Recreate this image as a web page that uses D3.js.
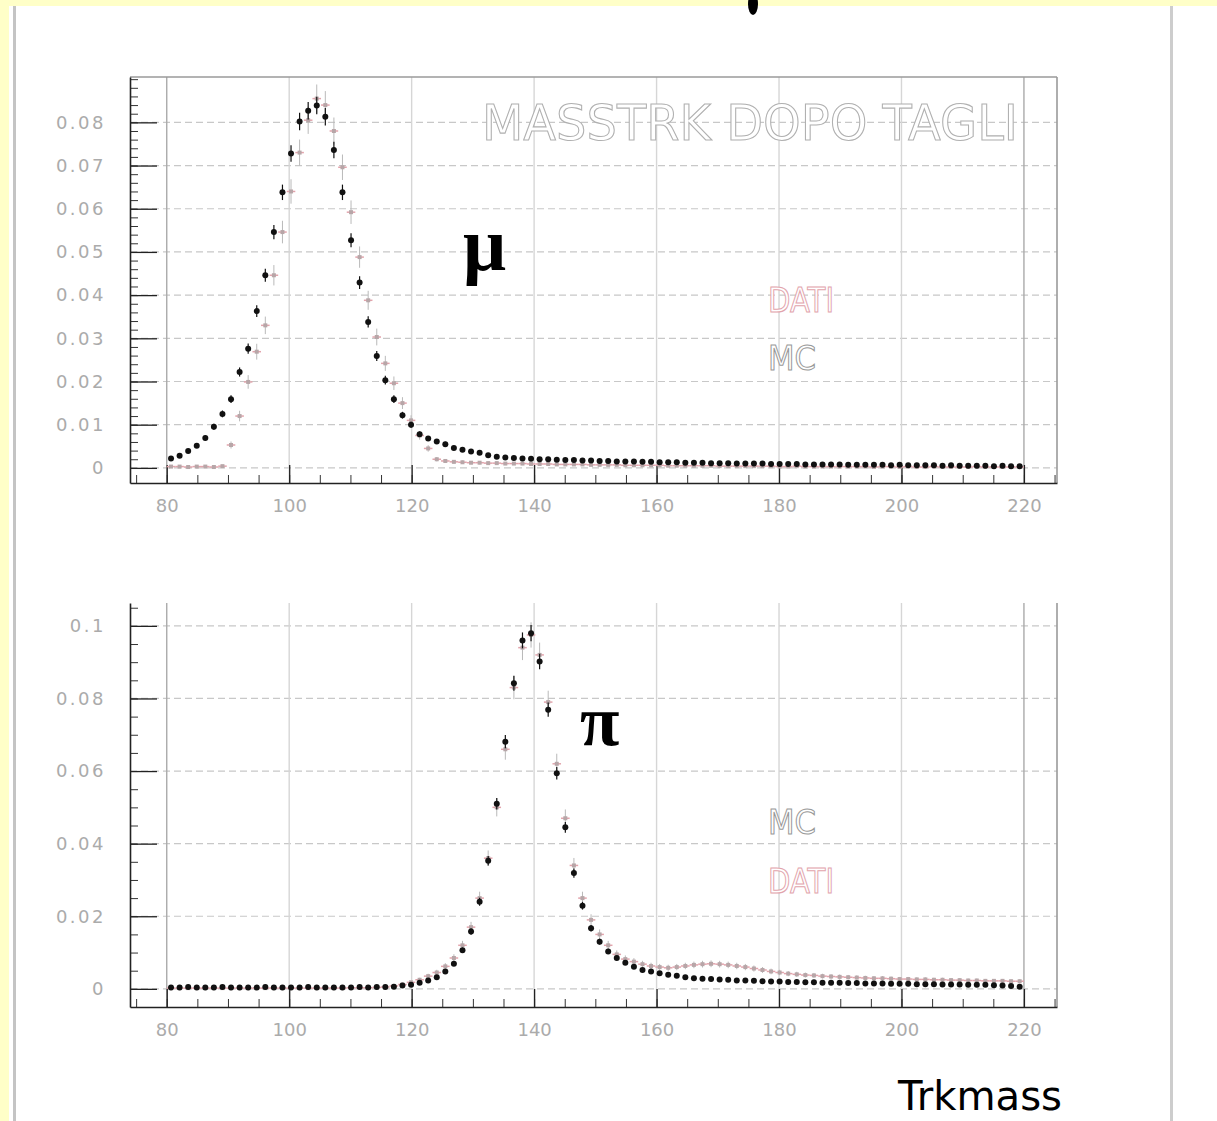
<!DOCTYPE html>
<html>
<head>
<meta charset="utf-8">
<script src="https://cdn.jsdelivr.net/npm/d3@7"></script>
<style>
  body { margin: 0; background: #fff; }
  svg { display: block; }
</style>
</head>
<body>
<svg id="page" width="1217" height="1121"></svg>
<script>
// histogram binning: 100 bins of 1.4 MeV from 80 to 220
var binLo = 80, binW = 1.4;

var xTicks = [80, 100, 120, 140, 160, 180, 200, 220];
var xTickLabels = ["80", "100", "120", "140", "160", "180", "200", "220"];

var yTicksMu = [0, 0.01, 0.02, 0.03, 0.04, 0.05, 0.06, 0.07, 0.08];
var yTickLabelsMu = ["0", "0.01", "0.02", "0.03", "0.04", "0.05", "0.06", "0.07", "0.08"];
var yTicksPi = [0, 0.02, 0.04, 0.06, 0.08, 0.1];
var yTickLabelsPi = ["0", "0.02", "0.04", "0.06", "0.08", "0.1"];

// muon sample
var mcMu = [
  0.0022, 0.0028, 0.0039, 0.0051, 0.0069, 0.0095, 0.0125, 0.0159, 0.0222, 0.0276,
  0.0363, 0.0446, 0.0546, 0.0638, 0.0728, 0.0802, 0.0827, 0.0839, 0.0813, 0.0736,
  0.0638, 0.0527, 0.0429, 0.0338, 0.0259, 0.0203, 0.0159, 0.0122, 0.0100, 0.0078,
  0.0068, 0.0061, 0.0055, 0.0046, 0.0042, 0.0038, 0.0035, 0.0029, 0.0026, 0.0024,
  0.0023, 0.0022, 0.0021, 0.0020, 0.0020, 0.0019, 0.0018, 0.0018, 0.0017, 0.0017,
  0.0016, 0.0016, 0.0015, 0.0015, 0.0015, 0.0014, 0.0014, 0.0013, 0.0013, 0.0013,
  0.0012, 0.0012, 0.0012, 0.0011, 0.0011, 0.0011, 0.0010, 0.0010, 0.0010, 0.0010,
  0.0009, 0.0009, 0.0009, 0.0009, 0.0008, 0.0008, 0.0008, 0.0008, 0.0008, 0.0007,
  0.0007, 0.0007, 0.0007, 0.0007, 0.0006, 0.0007, 0.0006, 0.0006, 0.0006, 0.0006,
  0.0005, 0.0006, 0.0005, 0.0005, 0.0005, 0.0005, 0.0004, 0.0005, 0.0004, 0.0004
];
var datiMu = [
  0.0003, 0.0003, 0.0002, 0.0003, 0.0003, 0.0002, 0.0004, 0.0053, 0.0120, 0.0199,
  0.0269, 0.0330, 0.0446, 0.0546, 0.0640, 0.0730, 0.0805, 0.0855, 0.0840, 0.0780,
  0.0696, 0.0592, 0.0488, 0.0388, 0.0303, 0.0242, 0.0196, 0.0150, 0.0110, 0.0075,
  0.0045, 0.0020, 0.0016, 0.0014, 0.0013, 0.0012, 0.0012, 0.0011, 0.0011, 0.0010,
  0.0010, 0.0010, 0.0009, 0.0009, 0.0009, 0.0008, 0.0008, 0.0008, 0.0008, 0.0007,
  0.0007, 0.0007, 0.0007, 0.0006, 0.0006, 0.0006, 0.0006, 0.0006, 0.0005, 0.0005,
  0.0005, 0.0005, 0.0005, 0.0005, 0.0004, 0.0004, 0.0004, 0.0004, 0.0004, 0.0004,
  0.0004, 0.0003, 0.0003, 0.0004, 0.0003, 0.0003, 0.0003, 0.0003, 0.0003, 0.0003,
  0.0003, 0.0003, 0.0002, 0.0003, 0.0003, 0.0002, 0.0003, 0.0002, 0.0002, 0.0003,
  0.0002, 0.0002, 0.0002, 0.0002, 0.0003, 0.0002, 0.0002, 0.0002, 0.0002, 0.0002
];

// pion sample
var mcPi = [
  0.0004, 0.0004, 0.0005, 0.0004, 0.0004, 0.0004, 0.0005, 0.0004, 0.0004, 0.0004,
  0.0004, 0.0005, 0.0004, 0.0004, 0.0004, 0.0004, 0.0005, 0.0004, 0.0004, 0.0004,
  0.0004, 0.0004, 0.0005, 0.0004, 0.0005, 0.0005, 0.0006, 0.0009, 0.0011, 0.0017,
  0.0023, 0.0032, 0.0048, 0.0069, 0.0106, 0.0158, 0.0240, 0.0353, 0.0510, 0.0681,
  0.0842, 0.0960, 0.0980, 0.0902, 0.0769, 0.0594, 0.0445, 0.0319, 0.0229, 0.0167,
  0.0130, 0.0103, 0.0085, 0.0072, 0.0061, 0.0052, 0.0048, 0.0043, 0.0039, 0.0036,
  0.0032, 0.0029, 0.0028, 0.0027, 0.0026, 0.0025, 0.0023, 0.0023, 0.0022, 0.0021,
  0.0020, 0.0020, 0.0019, 0.0019, 0.0018, 0.0018, 0.0017, 0.0017, 0.0017, 0.0016,
  0.0016, 0.0015, 0.0015, 0.0015, 0.0014, 0.0014, 0.0014, 0.0013, 0.0013, 0.0013,
  0.0012, 0.0012, 0.0012, 0.0011, 0.0011, 0.0011, 0.0010, 0.0009, 0.0008, 0.0006
];
var datiPi = [
  0.0002, 0.0002, 0.0002, 0.0002, 0.0002, 0.0002, 0.0002, 0.0002, 0.0002, 0.0002,
  0.0002, 0.0002, 0.0002, 0.0002, 0.0002, 0.0002, 0.0002, 0.0002, 0.0002, 0.0002,
  0.0002, 0.0003, 0.0003, 0.0003, 0.0004, 0.0005, 0.0008, 0.0012, 0.0018, 0.0025,
  0.0035, 0.0045, 0.0062, 0.0085, 0.0120, 0.0170, 0.0250, 0.0360, 0.0500, 0.0660,
  0.0830, 0.0940, 0.0975, 0.0920, 0.0790, 0.0620, 0.0470, 0.0340, 0.0250, 0.0190,
  0.0150, 0.0120, 0.0095, 0.0082, 0.0075, 0.0068, 0.0063, 0.0060, 0.0058, 0.0060,
  0.0063, 0.0066, 0.0068, 0.0069, 0.0068, 0.0066, 0.0063, 0.0060, 0.0056, 0.0052,
  0.0048, 0.0045, 0.0042, 0.0040, 0.0038, 0.0037, 0.0035, 0.0034, 0.0033, 0.0032,
  0.0031, 0.0030, 0.0029, 0.0029, 0.0028, 0.0027, 0.0027, 0.0026, 0.0026, 0.0025,
  0.0025, 0.0024, 0.0024, 0.0023, 0.0023, 0.0022, 0.0022, 0.0022, 0.0021, 0.0021
];

var svg = d3.select('#page');

// slide background: pale yellow strips and grey rules
svg.append('rect').attr('x', 0).attr('y', 0).attr('width', 1217).attr('height', 6).attr('fill', '#ffffc8');
svg.append('rect').attr('x', 0).attr('y', 0).attr('width', 9).attr('height', 1121).attr('fill', '#ffffc8');
svg.append('rect').attr('x', 13).attr('y', 6).attr('width', 3).attr('height', 1115).attr('fill', '#c4c4c4');
svg.append('rect').attr('x', 1170).attr('y', 6).attr('width', 3).attr('height', 1115).attr('fill', '#cdcdcd');
// bottom of the slide heading glyph, cut by the top edge
svg.append('ellipse').attr('cx', 753).attr('cy', 4).attr('rx', 5).attr('ry', 11).attr('fill', '#000');

var x = d3.scaleLinear().domain([74, 225.4]).range([130, 1057]);

var panels = [
  { top: 77, bottom: 483, yDomain: [-0.0035, 0.0905], ticks: yTicksMu, labels: yTickLabelsMu,
    minor: 0.002, mc: mcMu, dati: datiMu, frameTop: true },
  { top: 603, bottom: 1007, yDomain: [-0.005, 0.1063], ticks: yTicksPi, labels: yTickLabelsPi,
    minor: 0.005, mc: mcPi, dati: datiPi, frameTop: false }
];

var labelFont = 'DejaVu Sans';
var pink = '#e2a4ac';

panels.forEach(function(p) {
  var y = d3.scaleLinear().domain(p.yDomain).range([p.bottom, p.top]);
  var g = svg.append('g');

  // grid
  g.selectAll('line.hgrid').data(p.ticks).enter().append('line')
    .attr('class', 'hgrid')
    .attr('x1', x.range()[0]).attr('x2', x.range()[1])
    .attr('y1', function(d) { return y(d); }).attr('y2', function(d) { return y(d); })
    .attr('stroke', '#c8c8c8').attr('stroke-width', 1.2).attr('stroke-dasharray', '7,4');
  g.selectAll('line.vgrid').data(xTicks).enter().append('line')
    .attr('class', 'vgrid')
    .attr('x1', function(d) { return x(d); }).attr('x2', function(d) { return x(d); })
    .attr('y1', p.top).attr('y2', p.bottom)
    .attr('stroke', function(d, i) { return (i === 0 || i === xTicks.length - 1) ? '#aaa' : '#d6d6d6'; })
    .attr('stroke-width', 1.4);

  // frame
  if (p.frameTop) {
    g.append('line').attr('x1', x.range()[0]).attr('x2', x.range()[1])
      .attr('y1', p.top).attr('y2', p.top).attr('stroke', '#9a9a9a').attr('stroke-width', 1.6);
  }
  g.append('line').attr('x1', x.range()[1]).attr('x2', x.range()[1])
    .attr('y1', p.top).attr('y2', p.bottom).attr('stroke', '#9a9a9a').attr('stroke-width', 1.6);

  // minor ticks
  var minorY = d3.range(0, p.yDomain[1], p.minor);
  g.append('g').attr('transform', 'translate(' + x.range()[0] + ',0)')
    .call(d3.axisLeft(y).tickValues(minorY).tickSize(-8).tickSizeOuter(0).tickFormat(''))
    .call(function(a) { a.select('.domain').remove(); a.selectAll('line').attr('stroke', '#333'); });
  var minorX = d3.range(75, 226, 5);
  g.append('g').attr('transform', 'translate(0,' + p.bottom + ')')
    .call(d3.axisBottom(x).tickValues(minorX).tickSize(-8).tickSizeOuter(0).tickFormat(''))
    .call(function(a) { a.select('.domain').remove(); a.selectAll('line').attr('stroke', '#333'); });

  // major axes
  var yAxis = g.append('g').attr('transform', 'translate(' + x.range()[0] + ',0)')
    .call(d3.axisLeft(y).tickValues(p.ticks).tickSize(-27).tickSizeOuter(0).tickPadding(24)
      .tickFormat(function(d, i) { return p.labels[i]; }));
  var xAxis = g.append('g').attr('transform', 'translate(0,' + p.bottom + ')')
    .call(d3.axisBottom(x).tickValues(xTicks).tickSize(-18).tickSizeOuter(0).tickPadding(16)
      .tickFormat(function(d, i) { return xTickLabels[i]; }));
  [yAxis, xAxis].forEach(function(a) {
    a.select('.domain').attr('stroke', '#222').attr('stroke-width', 1.6);
    a.selectAll('line').attr('stroke', '#222').attr('stroke-width', 1.3);
    a.selectAll('text').attr('font-family', labelFont).attr('font-size', 18)
      .attr('fill', '#ababab');
  });
  yAxis.selectAll('text').attr('letter-spacing', 2.5);

  var bins = function(vals) {
    return vals.map(function(v, i) {
      return { lo: binLo + i * binW, hi: binLo + (i + 1) * binW, c: binLo + (i + 0.5) * binW, v: v };
    });
  };

  // data: pink bars with statistical error bars
  var dati = bins(p.dati);
  var gd = g.append('g');
  gd.selectAll('line.dh').data(dati).enter().append('line')
    .attr('x1', function(d) { return x(d.lo); }).attr('x2', function(d) { return x(d.hi); })
    .attr('y1', function(d) { return y(d.v); }).attr('y2', function(d) { return y(d.v); })
    .attr('stroke', pink).attr('stroke-width', 1.5);
  gd.selectAll('line.de').data(dati).enter().append('line')
    .attr('x1', function(d) { return x(d.c); }).attr('x2', function(d) { return x(d.c); })
    .attr('y1', function(d) { return y(d.v + Math.sqrt(d.v / 8000)); })
    .attr('y2', function(d) { return y(d.v - Math.sqrt(d.v / 8000)); })
    .attr('stroke', '#b9b9b9').attr('stroke-width', 1);
  gd.selectAll('rect').data(dati).enter().append('rect')
    .attr('x', function(d) { return x(d.c) - 2; }).attr('y', function(d) { return y(d.v) - 2; })
    .attr('width', 4).attr('height', 4).attr('fill', '#b7a6a8');

  // Monte Carlo: black dots with error bars
  var mc = bins(p.mc);
  var gm = g.append('g');
  gm.selectAll('line').data(mc).enter().append('line')
    .attr('x1', function(d) { return x(d.c); }).attr('x2', function(d) { return x(d.c); })
    .attr('y1', function(d) { return y(d.v + Math.sqrt(d.v / 20000)); })
    .attr('y2', function(d) { return y(d.v - Math.sqrt(d.v / 20000)); })
    .attr('stroke', '#111').attr('stroke-width', 1.2);
  gm.selectAll('circle').data(mc).enter().append('circle')
    .attr('cx', function(d) { return x(d.c); }).attr('cy', function(d) { return y(d.v); })
    .attr('r', 3).attr('fill', '#111');
});

// titles and legends
var outline = function(sel, col) {
  return sel.attr('font-family', labelFont).attr('fill', '#fff').attr('stroke', col)
    .attr('stroke-width', 1.1).attr('lengthAdjust', 'spacingAndGlyphs');
};
outline(svg.append('text').attr('x', 482).attr('y', 140).attr('font-size', 50)
  .attr('textLength', 536).text('MASSTRK DOPO TAGLI'), '#b0b0b0');
outline(svg.append('text').attr('x', 768).attr('y', 312).attr('font-size', 34)
  .attr('textLength', 66).text('DATI'), pink);
outline(svg.append('text').attr('x', 768).attr('y', 370).attr('font-size', 34)
  .attr('textLength', 48).text('MC'), '#999');
outline(svg.append('text').attr('x', 768).attr('y', 834).attr('font-size', 34)
  .attr('textLength', 48).text('MC'), '#999');
outline(svg.append('text').attr('x', 768).attr('y', 893).attr('font-size', 34)
  .attr('textLength', 66).text('DATI'), pink);

svg.append('text').attr('x', 463).attr('y', 270).attr('font-family', 'Liberation Serif')
  .attr('font-size', 76).attr('font-weight', 'bold').attr('fill', '#000').text('μ');
svg.append('text').attr('x', 580).attr('y', 745).attr('font-family', 'Liberation Serif')
  .attr('font-size', 72).attr('font-weight', 'bold').attr('fill', '#000').text('π');

svg.append('text').attr('x', 898).attr('y', 1110).attr('font-family', 'DejaVu Sans')
  .attr('font-size', 40).attr('fill', '#000').attr('textLength', 164)
  .attr('lengthAdjust', 'spacingAndGlyphs').text('Trkmass');
</script>
</body>
</html>
